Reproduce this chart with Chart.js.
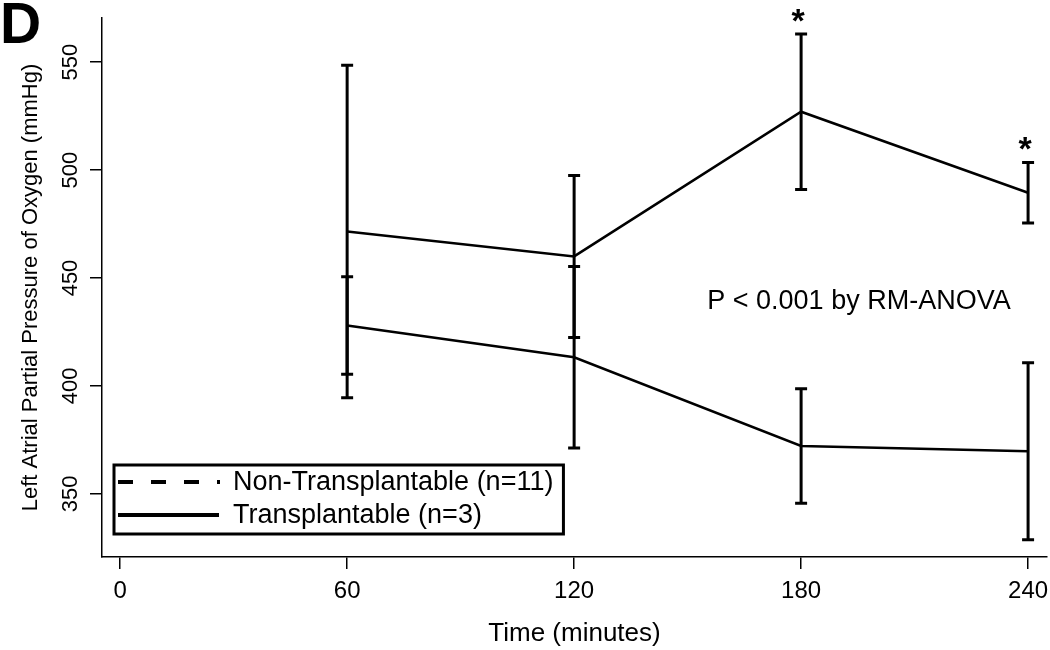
<!DOCTYPE html>
<html>
<head>
<meta charset="utf-8">
<script src="https://cdn.jsdelivr.net/npm/chart.js@4.4.1/dist/chart.umd.min.js"></script>
<style>
html,body{margin:0;padding:0;background:#fff;}
canvas{display:block;}
</style>
</head>
<body>
<canvas id="c" width="1050" height="650"></canvas>
<script>
// ---- data ----
const panelLabel = 'D';
const times = [60, 120, 180, 240];
const seriesNames = ['Non-Transplantable (n=11)', 'Transplantable (n=3)'];
const nonTransplantableMean = [428, 413.3, 372.2, 369.8];
const nonTransplantableErr  = [22.6, 42, 26.5, 41];
const transplantableMean    = [471.5, 460, 527, 489.5];
const transplantableErr     = [77, 37.5, 36, 14];
const significantIdx = [2, 3];           // '*' markers on Transplantable
const xTickValues = [0, 60, 120, 180, 240];
const yTickValues = [350, 400, 450, 500, 550];
const xTitle = 'Time (minutes)';
const yTitle = 'Left Atrial Partial Pressure of Oxygen (mmHg)';
const statText = 'P < 0.001 by RM-ANOVA';
const statPos = {x: 155.2, y: 439};
const xRange = {min: -4.8, max: 245};
const yRange = {min: 320.8, max: 570.4};

const FONT = '"Liberation Sans", Arial, sans-serif';

const toPoints = (ts, vals) => ts.map((t, i) => ({x: t, y: vals[i]}));

const overlay = {
  id: 'overlay',
  afterDatasetsDraw(chart) {
    const {ctx, chartArea, scales: {x, y}} = chart;
    ctx.save();
    // error bars
    ctx.strokeStyle = '#000';
    ctx.lineWidth = 3;
    ctx.lineCap = 'butt';
    chart.data.datasets.forEach(ds => {
      ds.data.forEach((p, i) => {
        const e = ds.errors[i];
        const px = x.getPixelForValue(p.x);
        const yt = y.getPixelForValue(p.y + e);
        const yb = y.getPixelForValue(p.y - e);
        ctx.beginPath();
        ctx.moveTo(px, yt); ctx.lineTo(px, yb);
        ctx.moveTo(px - 6, yt); ctx.lineTo(px + 6, yt);
        ctx.moveTo(px - 6, yb); ctx.lineTo(px + 6, yb);
        ctx.stroke();
      });
    });
    // significance stars
    const tds = chart.data.datasets[1];
    ctx.fillStyle = '#000';
    ctx.font = 'bold 34px ' + FONT;
    ctx.textAlign = 'center';
    ctx.textBaseline = 'alphabetic';
    significantIdx.forEach(i => {
      const p = tds.data[i];
      const px = x.getPixelForValue(p.x);
      const yt = y.getPixelForValue(p.y + tds.errors[i]);
      ctx.fillText('*', px - 3, yt - 2);
    });
    // y tick labels (rotated)
    ctx.font = '22px ' + FONT;
    ctx.textAlign = 'center';
    ctx.textBaseline = 'middle';
    y.ticks.forEach(t => {
      const py = y.getPixelForValue(t.value);
      ctx.save();
      ctx.translate(y.right - 31, py);
      ctx.rotate(-Math.PI / 2);
      ctx.fillText(String(t.value), 0, 0);
      ctx.restore();
    });
    // statistic text
    ctx.font = '27px ' + FONT;
    ctx.textAlign = 'left';
    ctx.textBaseline = 'middle';
    ctx.fillText(statText, x.getPixelForValue(statPos.x), y.getPixelForValue(statPos.y));
    // legend box
    ctx.font = '27px ' + FONT;
    const names = chart.data.datasets.map(d => d.label);
    const tw = Math.max(...names.map(n => ctx.measureText(n).width));
    const bx = chartArea.left + 12;
    const by = chartArea.bottom - 92;
    const bw = 119 + tw + 10;
    const bh = 69;
    ctx.lineWidth = 3;
    ctx.strokeRect(bx, by, bw, bh);
    const rows = [by + 17, by + 50];
    ctx.lineWidth = 4;
    ctx.setLineDash([15, 18]);
    ctx.beginPath(); ctx.moveTo(bx + 4, rows[0]); ctx.lineTo(bx + 106, rows[0]); ctx.stroke();
    ctx.setLineDash([]);
    ctx.beginPath(); ctx.moveTo(bx + 4, rows[1]); ctx.lineTo(bx + 105, rows[1]); ctx.stroke();
    names.forEach((n, i) => ctx.fillText(n, bx + 119, rows[i] + 1));
    // panel label
    ctx.font = 'bold 57px ' + FONT;
    ctx.textAlign = 'left';
    ctx.textBaseline = 'alphabetic';
    ctx.fillText(panelLabel, 0, 43);
    ctx.restore();
  }
};

new Chart(document.getElementById('c'), {
  type: 'line',
  data: {
    datasets: [
      {label: seriesNames[0], data: toPoints(times, nonTransplantableMean), errors: nonTransplantableErr,
       borderColor: '#000', borderWidth: 2.5, pointRadius: 0, tension: 0, fill: false},
      {label: seriesNames[1], data: toPoints(times, transplantableMean), errors: transplantableErr,
       borderColor: '#000', borderWidth: 2.5, pointRadius: 0, tension: 0, fill: false}
    ]
  },
  options: {
    responsive: false,
    animation: false,
    devicePixelRatio: 1,
    layout: {padding: {top: 18, right: 3, left: 0, bottom: 0}},
    plugins: {legend: {display: false}, tooltip: {enabled: false}},
    scales: {
      x: {
        type: 'linear', min: xRange.min, max: xRange.max,
        afterBuildTicks: s => { s.ticks = xTickValues.map(v => ({value: v})); },
        afterFit: s => { s.height = 93; s.paddingLeft = 0; s.paddingRight = 0; },
        ticks: {color: '#000', font: {family: FONT, size: 24}, padding: 8, maxRotation: 0, autoSkip: false},
        grid: {drawOnChartArea: false, drawTicks: true, tickLength: 12, color: '#000', lineWidth: 1.5},
        border: {color: '#000', width: 1.5},
        title: {display: true, text: xTitle, color: '#000', font: {family: FONT, size: 26}, padding: {top: 0, bottom: 1}}
      },
      y: {
        type: 'linear', min: yRange.min, max: yRange.max,
        afterBuildTicks: s => { s.ticks = yTickValues.map(v => ({value: v})); },
        afterFit: s => { s.width = 102; s.paddingTop = 0; s.paddingBottom = 0; },
        ticks: {display: false},
        grid: {drawOnChartArea: false, drawTicks: true, tickLength: 12, color: '#000', lineWidth: 1.5},
        border: {color: '#000', width: 1.5},
        title: {display: true, text: yTitle, align: 'center', color: '#000', font: {family: FONT, size: 22}, padding: {top: 18, bottom: 0}}
      }
    }
  },
  plugins: [overlay]
});
</script>
</body>
</html>
